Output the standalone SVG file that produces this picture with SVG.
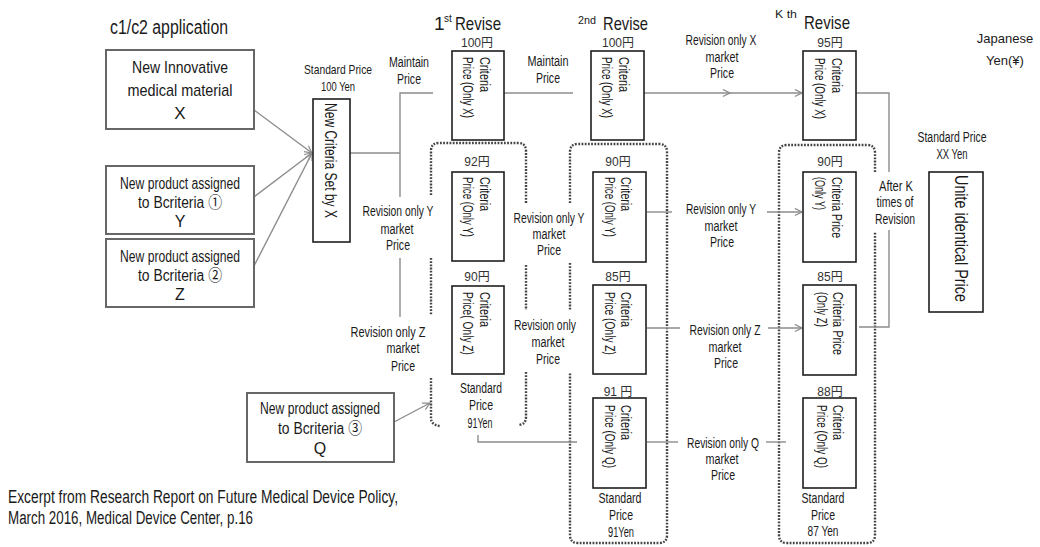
<svg xmlns="http://www.w3.org/2000/svg" width="1040" height="547" viewBox="0 0 1040 547">
<style>
text{font-family:"Liberation Sans","Noto Sans CJK JP",sans-serif;fill:#1a1a1a}
.f13{font-size:14px}
.f12{font-size:13px}
.f14{font-size:15px}
.f15{font-size:16px}
.f16{font-size:17px}
.m{text-anchor:middle}
.yen{font-size:12px;fill:#333}
.src{fill:#fff;stroke:#676767;stroke-width:2}
.crit{fill:#fff;stroke:#1f1f1f;stroke-width:1.6}
.ln{fill:none;stroke:#8c8c8c;stroke-width:1.4}
.dot{fill:none;stroke:#444;stroke-width:2.4;stroke-dasharray:1.8 1.4}
</style>
<defs>
<marker id="ah" viewBox="0 0 10 10" refX="9" refY="5" markerWidth="9" markerHeight="9" markerUnits="userSpaceOnUse" orient="auto">
<path d="M1,1 L9,5 L1,9" fill="none" stroke="#8c8c8c" stroke-width="1.3"/>
</marker>
</defs>
<rect width="1040" height="547" fill="#fff"/>

<!-- headings -->
<g id="headings">
<text x="110" y="34" style="font-size:20px" textLength="118" lengthAdjust="spacingAndGlyphs">c1/c2 application</text>
<text x="434" y="30" style="font-size:19px">1</text>
<text x="444" y="22" style="font-size:10px">st</text>
<text x="455" y="30" style="font-size:19px" textLength="46" lengthAdjust="spacingAndGlyphs">Revise</text>
<text x="578" y="24" style="font-size:11px" textLength="18" lengthAdjust="spacingAndGlyphs">2nd</text>
<text x="603" y="30" style="font-size:19px" textLength="45" lengthAdjust="spacingAndGlyphs">Revise</text>
<text x="775" y="18" style="font-size:11px" textLength="22" lengthAdjust="spacingAndGlyphs">K th</text>
<text x="804" y="29" style="font-size:19px" textLength="46" lengthAdjust="spacingAndGlyphs">Revise</text>
<text class="m" style="font-size:13px" x="1005" y="43">Japanese</text>
<text class="m" style="font-size:13px" x="1005" y="65">Yen(¥)</text>
</g>

<!-- dotted groups -->
<g id="group1">
<path class="dot" d="M431,195 V151 Q431,143 439,143 H518 Q526,143 526,151 V203"/>
<path class="dot" d="M431,258 V315"/>
<path class="dot" d="M431,378 V418 Q431,425 440,426"/>
<path class="dot" d="M526,265 V310"/>
<path class="dot" d="M526,372 V417 Q526,424 519,425"/>
</g>
<g id="group2">
<path class="dot" d="M570,203 V152 Q570,144 578,144 H659 Q667,144 667,152 V535 Q667,543 659,543 H578 Q570,543 570,535 V373"/>
<path class="dot" d="M570,263 V310"/>
</g>
<g id="group3">
<path class="dot" d="M875,172 V153 Q875,145 867,145 H787 Q779,145 779,153 V535 Q779,543 787,543 H867 Q875,543 875,535 V232"/>
</g>

<!-- connectors -->
<g id="connectors">
<line class="ln" x1="254" y1="110" x2="312" y2="153" marker-end="url(#ah)"/>
<line class="ln" x1="254" y1="197" x2="312" y2="153" marker-end="url(#ah)"/>
<line class="ln" x1="254" y1="266" x2="312" y2="153" marker-end="url(#ah)"/>
<path class="ln" d="M350,153 H400"/>
<path class="ln" d="M400,197 V93 H433"/>
<path class="ln" d="M400,258 V317"/>
<path class="ln" d="M504,93 H573"/>
<line class="ln" x1="643" y1="93" x2="730" y2="93" marker-end="url(#ah)"/>
<line class="ln" x1="730" y1="93" x2="802" y2="93" marker-end="url(#ah)"/>
<path class="ln" d="M856,93 H889 V172"/>
<path class="ln" d="M889,230 V327 H859"/>
<path class="ln" d="M647,212 H672"/>
<line class="ln" x1="767" y1="212" x2="802" y2="212" marker-end="url(#ah)"/>
<path class="ln" d="M647,328 H680"/>
<line class="ln" x1="768" y1="328" x2="802" y2="328" marker-end="url(#ah)"/>
<path class="ln" d="M647,442 H678"/>
<path class="ln" d="M766,442 H786"/>
<path class="ln" d="M478,435 V442 H577"/>
<line class="ln" x1="394" y1="422" x2="430" y2="403" marker-end="url(#ah)"/>
</g>

<!-- connector labels -->
<g id="labels">
<text class="f12 m" x="338" y="74" textLength="68" lengthAdjust="spacingAndGlyphs">Standard Price</text>
<text class="f12 m" x="338" y="91" textLength="34" lengthAdjust="spacingAndGlyphs">100 Yen</text>
<text class="f13 m" x="409" y="67" textLength="40" lengthAdjust="spacingAndGlyphs">Maintain</text>
<text class="f13 m" x="409" y="84" textLength="24" lengthAdjust="spacingAndGlyphs">Price</text>
<text class="f13 m" x="548" y="66" textLength="41" lengthAdjust="spacingAndGlyphs">Maintain</text>
<text class="f13 m" x="548" y="83" textLength="24" lengthAdjust="spacingAndGlyphs">Price</text>
<text class="f13 m" x="721" y="45" textLength="71" lengthAdjust="spacingAndGlyphs">Revision only X</text>
<text class="f13 m" x="722" y="62" textLength="33" lengthAdjust="spacingAndGlyphs">market</text>
<text class="f13 m" x="722" y="78" textLength="24" lengthAdjust="spacingAndGlyphs">Price</text>

<text class="f13 m" x="398" y="216" textLength="71" lengthAdjust="spacingAndGlyphs">Revision only Y</text>
<text class="f13 m" x="397" y="234" textLength="33" lengthAdjust="spacingAndGlyphs">market</text>
<text class="f13 m" x="398" y="250" textLength="24" lengthAdjust="spacingAndGlyphs">Price</text>
<text class="f13 m" x="549" y="223" textLength="71" lengthAdjust="spacingAndGlyphs">Revision only Y</text>
<text class="f13 m" x="549" y="239" textLength="33" lengthAdjust="spacingAndGlyphs">market</text>
<text class="f13 m" x="549" y="255" textLength="24" lengthAdjust="spacingAndGlyphs">Price</text>

<text class="f13 m" x="388" y="337" textLength="75" lengthAdjust="spacingAndGlyphs">Revision only  Z</text>
<text class="f13 m" x="403" y="353" textLength="33" lengthAdjust="spacingAndGlyphs">market</text>
<text class="f13 m" x="403" y="371" textLength="24" lengthAdjust="spacingAndGlyphs">Price</text>
<text class="f13 m" x="545" y="330" textLength="62" lengthAdjust="spacingAndGlyphs">Revision only</text>
<text class="f13 m" x="548" y="347" textLength="33" lengthAdjust="spacingAndGlyphs">market</text>
<text class="f13 m" x="548" y="364" textLength="24" lengthAdjust="spacingAndGlyphs">Price</text>

<text class="f13 m" x="721" y="214" textLength="70" lengthAdjust="spacingAndGlyphs">Revision only Y</text>
<text class="f13 m" x="721" y="231" textLength="33" lengthAdjust="spacingAndGlyphs">market</text>
<text class="f13 m" x="722" y="247" textLength="24" lengthAdjust="spacingAndGlyphs">Price</text>
<text class="f13 m" x="725" y="335" textLength="71" lengthAdjust="spacingAndGlyphs">Revision only Z</text>
<text class="f13 m" x="725" y="352" textLength="33" lengthAdjust="spacingAndGlyphs">market</text>
<text class="f13 m" x="726" y="368" textLength="24" lengthAdjust="spacingAndGlyphs">Price</text>
<text class="f13 m" x="723" y="448" textLength="72" lengthAdjust="spacingAndGlyphs">Revision only Q</text>
<text class="f13 m" x="722" y="464" textLength="33" lengthAdjust="spacingAndGlyphs">market</text>
<text class="f13 m" x="723" y="480" textLength="24" lengthAdjust="spacingAndGlyphs">Price</text>

<text class="f13 m" x="896" y="191" textLength="34" lengthAdjust="spacingAndGlyphs">After K</text>
<text class="f13 m" x="895" y="207" textLength="37" lengthAdjust="spacingAndGlyphs">times of</text>
<text class="f13 m" x="895" y="224" textLength="40" lengthAdjust="spacingAndGlyphs">Revision</text>
<text class="f13 m" x="952" y="142" textLength="69" lengthAdjust="spacingAndGlyphs">Standard Price</text>
<text class="f13 m" x="952" y="159" textLength="31" lengthAdjust="spacingAndGlyphs">XX Yen</text>

<text class="f13 m" x="481" y="393" textLength="42" lengthAdjust="spacingAndGlyphs">Standard</text>
<text class="f13 m" x="481" y="410" textLength="24" lengthAdjust="spacingAndGlyphs">Price</text>
<text class="f13 m" x="480" y="428" textLength="25" lengthAdjust="spacingAndGlyphs">91Yen</text>
<text class="f13 m" x="620" y="503" textLength="43" lengthAdjust="spacingAndGlyphs">Standard</text>
<text class="f13 m" x="621" y="520" textLength="24" lengthAdjust="spacingAndGlyphs">Price</text>
<text class="f13 m" x="621" y="537" textLength="26" lengthAdjust="spacingAndGlyphs">91Yen</text>
<text class="f13 m" x="823" y="503" textLength="43" lengthAdjust="spacingAndGlyphs">Standard</text>
<text class="f13 m" x="823" y="520" textLength="24" lengthAdjust="spacingAndGlyphs">Price</text>
<text class="f13 m" x="823" y="536" textLength="31" lengthAdjust="spacingAndGlyphs">87 Yen</text>

<text class="yen m" x="477" y="47">100円</text>
<text class="yen m" x="618" y="47">100円</text>
<text class="yen m" x="830" y="47">95円</text>
<text class="yen m" x="477" y="166">92円</text>
<text class="yen m" x="618" y="166">90円</text>
<text class="yen m" x="830" y="166">90円</text>
<text class="yen m" x="477" y="281">90円</text>
<text class="yen m" x="618" y="281">85円</text>
<text class="yen m" x="830" y="281">85円</text>
<text class="yen m" x="618" y="396">91 円</text>
<text class="yen m" x="830" y="396">88円</text>
</g>

<!-- source nodes -->
<g id="node-x">
<rect class="src" x="106" y="50" width="148" height="79"/>
<text class="f16 m" x="180" y="73" textLength="96" lengthAdjust="spacingAndGlyphs">New Innovative</text>
<text class="f16 m" x="180" y="96" textLength="105" lengthAdjust="spacingAndGlyphs">medical material</text>
<text class="f16 m" x="180" y="119">X</text>
</g>
<g id="node-y">
<rect class="src" x="106" y="166" width="148" height="68"/>
<text class="f15 m" x="180" y="189" textLength="120" lengthAdjust="spacingAndGlyphs">New product assigned</text>
<text class="f15 m" x="180" y="208" textLength="84" lengthAdjust="spacingAndGlyphs">to Bcriteria ①</text>
<text class="f15 m" x="180" y="227">Y</text>
</g>
<g id="node-z">
<rect class="src" x="106" y="239" width="148" height="68"/>
<text class="f15 m" x="180" y="262" textLength="120" lengthAdjust="spacingAndGlyphs">New product assigned</text>
<text class="f15 m" x="180" y="281" textLength="84" lengthAdjust="spacingAndGlyphs">to Bcriteria ②</text>
<text class="f15 m" x="180" y="300">Z</text>
</g>
<g id="node-q">
<rect class="src" x="247" y="393" width="147" height="69"/>
<text class="f15 m" x="320" y="414" textLength="120" lengthAdjust="spacingAndGlyphs">New product assigned</text>
<text class="f15 m" x="320" y="434" textLength="84" lengthAdjust="spacingAndGlyphs">to Bcriteria ③</text>
<text class="f15 m" x="320" y="454">Q</text>
</g>

<g id="node-new-criteria">
<rect class="crit" x="313" y="99" width="37" height="143"/>
<g transform="translate(331,160.5) rotate(90)">
<text class="f16 m" x="0" y="6" textLength="115" lengthAdjust="spacingAndGlyphs">New Criteria Set by X</text>
</g>
</g>

<!-- criteria boxes -->
<g id="node-x1">
<rect class="crit" x="452" y="51" width="52" height="89"/>
<g transform="translate(485,57) rotate(90)">
<text class="f14" x="0" y="5" textLength="35" lengthAdjust="spacingAndGlyphs">Criteria</text>
<text class="f14" x="0" y="22" textLength="61" lengthAdjust="spacingAndGlyphs">Price (Only X)</text>
</g>
</g>
<g id="node-x2">
<rect class="crit" x="591" y="51" width="53" height="89"/>
<g transform="translate(624,57) rotate(90)">
<text class="f14" x="0" y="5" textLength="35" lengthAdjust="spacingAndGlyphs">Criteria</text>
<text class="f14" x="0" y="22" textLength="61" lengthAdjust="spacingAndGlyphs">Price (Only X)</text>
</g>
</g>
<g id="node-x3">
<rect class="crit" x="803" y="51" width="53" height="89"/>
<g transform="translate(837,58) rotate(90)">
<text class="f14" x="0" y="5" textLength="35" lengthAdjust="spacingAndGlyphs">Criteria</text>
<text class="f14" x="0" y="22" textLength="61" lengthAdjust="spacingAndGlyphs">Price (Only X)</text>
</g>
</g>
<g id="node-y1">
<rect class="crit" x="452" y="172" width="52" height="89"/>
<g transform="translate(485,177) rotate(90)">
<text class="f14" x="0" y="5" textLength="34" lengthAdjust="spacingAndGlyphs">Criteria</text>
<text class="f14" x="0" y="22" textLength="60" lengthAdjust="spacingAndGlyphs">Price (Only Y)</text>
</g>
</g>
<g id="node-y2">
<rect class="crit" x="593" y="172" width="53" height="90"/>
<g transform="translate(626,177) rotate(90)">
<text class="f14" x="0" y="5" textLength="34" lengthAdjust="spacingAndGlyphs">Criteria</text>
<text class="f14" x="0" y="21" textLength="60" lengthAdjust="spacingAndGlyphs">Price (Only Y)</text>
</g>
</g>
<g id="node-y3">
<rect class="crit" x="803" y="172" width="53" height="90"/>
<g transform="translate(837,177) rotate(90)">
<text class="f14" x="0" y="5" textLength="61" lengthAdjust="spacingAndGlyphs">Criteria Price</text>
<text class="f14" x="0" y="22" textLength="33" lengthAdjust="spacingAndGlyphs">(Only Y)</text>
</g>
</g>
<g id="node-z1">
<rect class="crit" x="452" y="286" width="52" height="88"/>
<g transform="translate(485,292) rotate(90)">
<text class="f14" x="0" y="5" textLength="35" lengthAdjust="spacingAndGlyphs">Criteria</text>
<text class="f14" x="0" y="22" textLength="63" lengthAdjust="spacingAndGlyphs">Price( Only Z)</text>
</g>
</g>
<g id="node-z2">
<rect class="crit" x="593" y="285" width="53" height="89"/>
<g transform="translate(626,292) rotate(90)">
<text class="f14" x="0" y="5" textLength="35" lengthAdjust="spacingAndGlyphs">Criteria</text>
<text class="f14" x="0" y="21" textLength="63" lengthAdjust="spacingAndGlyphs">Price (Only Z)</text>
</g>
</g>
<g id="node-z3">
<rect class="crit" x="803" y="285" width="53" height="90"/>
<g transform="translate(838,292) rotate(90)">
<text class="f14" x="0" y="5" textLength="63" lengthAdjust="spacingAndGlyphs">Criteria Price</text>
<text class="f14" x="0" y="21" textLength="35" lengthAdjust="spacingAndGlyphs">(Only Z)</text>
</g>
</g>
<g id="node-q2">
<rect class="crit" x="593" y="398" width="53" height="90"/>
<g transform="translate(626,405) rotate(90)">
<text class="f14" x="0" y="5" textLength="35" lengthAdjust="spacingAndGlyphs">Criteria</text>
<text class="f14" x="0" y="21" textLength="63" lengthAdjust="spacingAndGlyphs">Price (Only Q)</text>
</g>
</g>
<g id="node-q3">
<rect class="crit" x="803" y="398" width="53" height="90"/>
<g transform="translate(838,405) rotate(90)">
<text class="f14" x="0" y="5" textLength="35" lengthAdjust="spacingAndGlyphs">Criteria</text>
<text class="f14" x="0" y="21" textLength="63" lengthAdjust="spacingAndGlyphs">Price (Only Q)</text>
</g>
</g>

<g id="node-unite">
<rect class="crit" x="929" y="172" width="54" height="140"/>
<g transform="translate(962,238.5) rotate(90)">
<text class="m" style="font-size:19px" x="0" y="6.6" textLength="127" lengthAdjust="spacingAndGlyphs">Unite identical Price</text>
</g>
</g>

<g id="footer">
<text style="font-size:18px" x="8" y="503" textLength="390" lengthAdjust="spacingAndGlyphs">Excerpt from Research Report on Future Medical Device Policy,</text>
<text style="font-size:18px" x="8" y="524" textLength="245" lengthAdjust="spacingAndGlyphs">March 2016, Medical Device Center, p.16</text>
</g>
</svg>
